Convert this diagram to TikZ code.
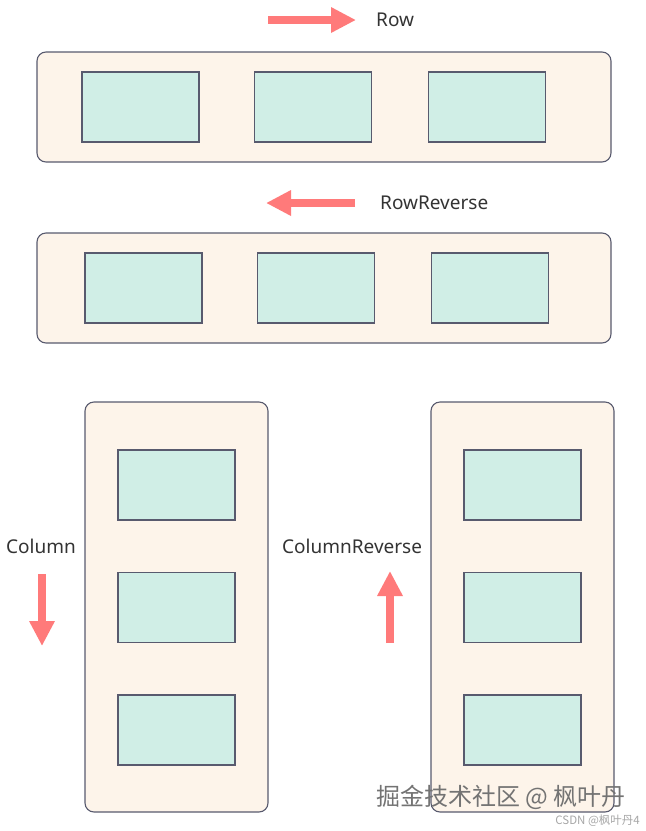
\documentclass[tikz,border=0pt]{standalone}
\usepackage{fontspec}
\setmainfont{Noto Sans}
\newfontfamily\cjk{Noto Sans CJK SC}
\usetikzlibrary{arrows.meta, positioning}
\definecolor{flexbg}{RGB}{253, 244, 234}
\definecolor{flexline}{RGB}{88, 90, 110}
\definecolor{itemfill}{RGB}{208, 238, 230}
\definecolor{dirred}{RGB}{255, 122, 122}

\begin{document}
\begin{tikzpicture}[
  x=1pt, y=-1pt,
  flexbox/.style={draw=flexline, fill=flexbg, line width=1.1pt, rounded corners=9pt, inner sep=0pt},
  item/.style={draw=flexline, fill=itemfill, line width=1.1pt, minimum width=117pt, minimum height=70pt, inner sep=0pt},
  dirarrow/.style={draw=dirred, line width=8pt, -{Triangle[length=25pt, width=24pt]}},
  dirlabel/.style={font=\fontsize{19}{22}\selectfont, text=black!80, inner sep=0pt}
]
  \useasboundingbox (0,0) rectangle (646,831);

  % row
  \node[flexbox, minimum width=574pt, minimum height=110pt] (row) at (324, 107) {};
  \node[item] (rowA) at (140.5, 107) {};
  \node[item] (rowB) at (313, 107) {};
  \node[item] (rowC) at (487, 107) {};
  \coordinate (rowS) at (268, 20);
  \coordinate (rowE) at (356, 20);
  \draw[dirarrow] (rowS) -- (rowE);
  \node[dirlabel, anchor=west] (rowtxt) at (376, 20) {Row};

  % row-reverse
  \node[flexbox, minimum width=574pt, minimum height=110pt] (rrev) at (324, 288) {};
  \node[item] (rrevA) at (143.5, 288) {};
  \node[item] (rrevB) at (316, 288) {};
  \node[item] (rrevC) at (490, 288) {};
  \coordinate (rrevS) at (355, 203);
  \coordinate (rrevE) at (266, 203);
  \draw[dirarrow] (rrevS) -- (rrevE);
  \node[dirlabel, anchor=west] (rrevtxt) at (380, 203) {RowReverse};

  % column
  \node[flexbox, minimum width=183pt, minimum height=410pt] (col) at (176.5, 607) {};
  \node[item] (colA) at (176.5, 485) {};
  \node[item] (colB) at (176.5, 607.5) {};
  \node[item] (colC) at (176.5, 730) {};
  \node[dirlabel, anchor=west] (coltxt) at (6, 546) {Column};
  \coordinate (colS) at (42, 574);
  \coordinate (colE) at (42, 646);
  \draw[dirarrow] (colS) -- (colE);

  % column-reverse
  \node[flexbox, minimum width=183pt, minimum height=410pt] (crev) at (522.5, 607) {};
  \node[item] (crevA) at (522.5, 485) {};
  \node[item] (crevB) at (522.5, 607.5) {};
  \node[item] (crevC) at (522.5, 730) {};
  \node[dirlabel, anchor=west] (crevtxt) at (282, 546) {ColumnReverse};
  \coordinate (crevS) at (390, 643);
  \coordinate (crevE) at (390, 571);
  \draw[dirarrow] (crevS) -- (crevE);

  % watermark
  \node[anchor=west, inner sep=0pt, text=black!55, font=\cjk\fontsize{24}{27}\selectfont] (mark) at (376, 797) {掘金技术社区 @ 枫叶丹};
  \node[anchor=east, inner sep=0pt, text=black!35, font=\cjk\fontsize{11.5}{13}\selectfont] (csdn) at (640, 821) {CSDN @枫叶丹4};
\end{tikzpicture}
\end{document}
